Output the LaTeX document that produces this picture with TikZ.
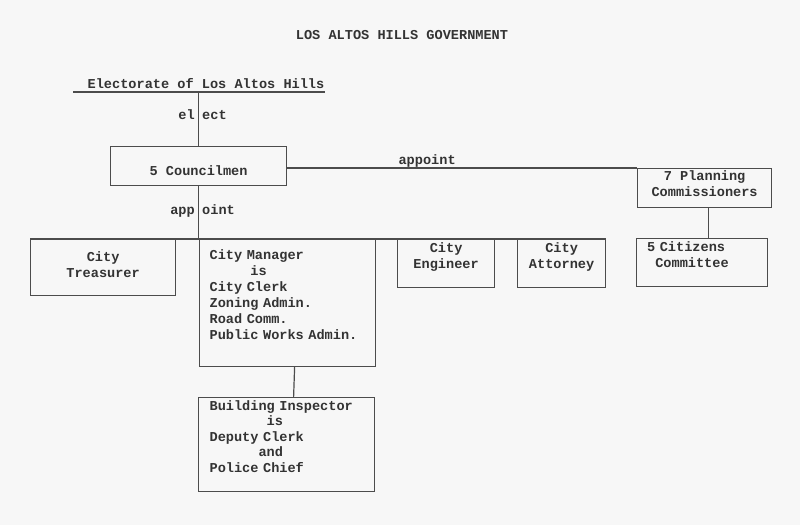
\documentclass[tikz,border=0pt]{standalone}
\usepackage{fontspec}
\setmonofont{Liberation Mono}
\usepackage{tikz}

\begin{document}
\begin{tikzpicture}[x=1pt,y=-1pt,font=\ttfamily\bfseries\fontsize{13.6}{16}\selectfont,text=black!80]
      \tikzset{org box/.style={draw=black!70,
          line width=1.2pt,
          inner sep=0pt,
          anchor=north west,
          align=center},
        left box/.style={org box,
          align=left,
          inner xsep=#1},
        org line/.style={draw=black!70, line width=1.2pt},
        word/.style={inner sep=0pt}
      }
      \fill [black!3] (0,0) rectangle (800,525);
      \useasboundingbox (0,0) rectangle (800,525);
      \node [word] (title) at (402,35) {LOS ALTOS HILLS GOVERNMENT};
      \node [word,anchor=base] (electorate) at (206,88) {Electorate of Los Altos Hills};
      \coordinate (ul) at (73,92);
      % boxes
      \node [org box,minimum width=176pt,minimum height=39pt,text height=18pt] (council) at (110,146) {5 Councilmen};
      \node [org box,minimum width=134pt,minimum height=39pt,text depth=9pt] (planning) at (637,168) {7 Planning\\Commissioners};
      \node [left box=10.5pt,text width=110pt,minimum height=48pt,text depth=33pt] (citizens) at (636,238) {5 Citizens\\\hphantom{0}Committee};
      \node [org box,minimum width=145pt,minimum height=56pt,text depth=7pt] (treasurer) at (30,239) {City\\Treasurer};
      \node [left box=10pt,text width=156pt,minimum height=127pt,text depth=97pt] (manager) at (199,239) {City Manager\\\hphantom{00000}is\\City Clerk\\Zoning Admin.\\Road Comm.\\Public Works Admin.};
      \node [org box,minimum width=97pt,minimum height=48pt,text depth=17pt] (engineer) at (397,239) {City\\Engineer};
      \node [org box,minimum width=88pt,minimum height=48pt,text depth=17pt] (attorney) at (517,239) {City\\Attorney};
      \node [left box=11pt,text width=154pt,minimum height=94pt,text depth=79pt] (building) at (198,397) {Building Inspector\\[-0.5pt]\hphantom{0000000}is\\[-0.5pt]Deputy Clerk\\[-0.5pt]\hphantom{000000}and\\[-0.5pt]Police Chief};
      % connectors
      \draw [org line] (ul) -- (ul -| electorate.east);
      \draw [org line] (council.north) -- (council.north |- ul);
      \node [word,anchor=base east] (el) at (195,119) {el};
      \node [word,anchor=base west] (ect) at (202,119) {ect};
      \draw [org line] (council.south) -- (council.south |- treasurer.north);
      \node [word,anchor=base east] (app) at (195,214) {app};
      \node [word,anchor=base west] (oint) at (202,214) {oint};
      \draw [org line] (treasurer.north west) -- (attorney.north east);
      \draw [org line] (planning.north west -| council.east) -- node [word,above=0pt,pos=0.4] (appoint) {appoint} (planning.north west);
      \draw [org line] ([xshift=4pt]planning.south) -- ([xshift=4pt]planning.south |- citizens.north);
      \draw [org line] ([xshift=7pt]manager.south) -- ([xshift=7pt]building.north);
    \end{tikzpicture}
\end{document}
